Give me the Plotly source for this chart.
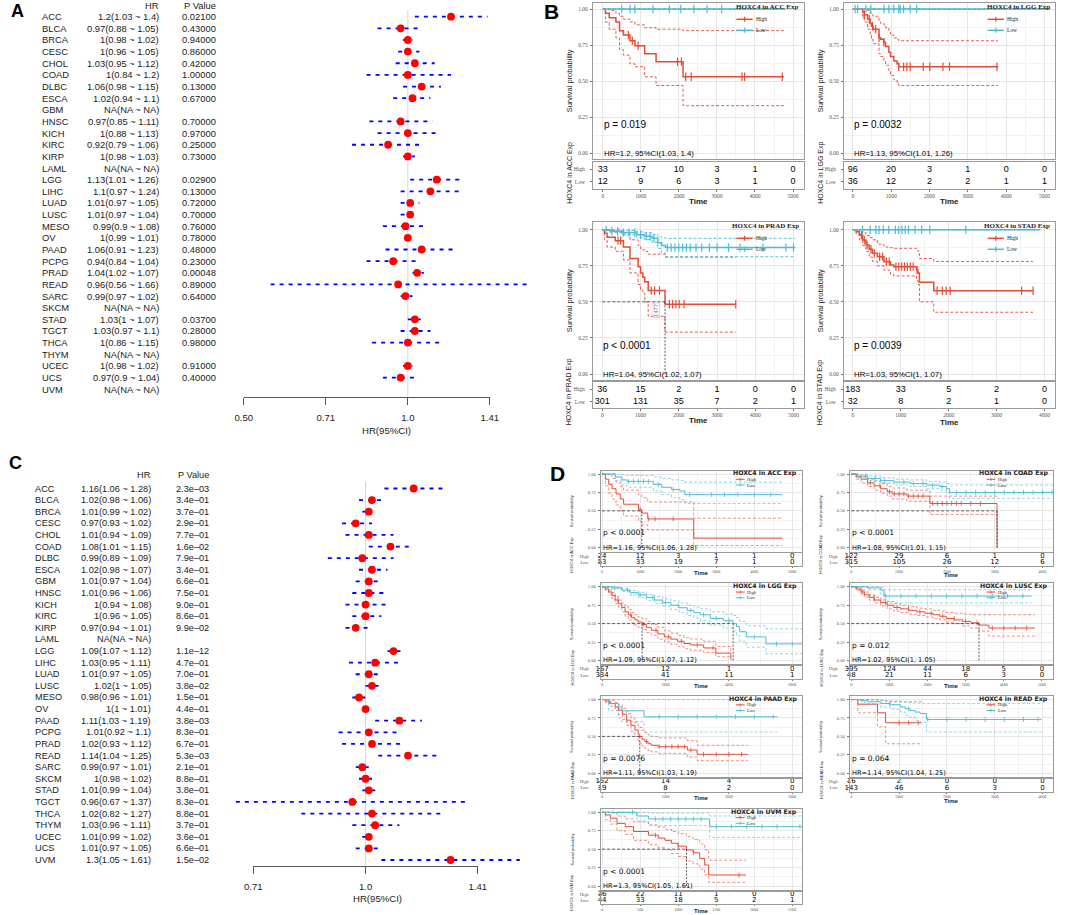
import math
import plotly.graph_objects as go

W, H = 1065, 915
RED = "#E64B35"
BLUE = "#4DBBD5"
FBLUE = "#0000FF"
FRED = "#FF0000"
SANS = "Liberation Sans, Arial, sans-serif"
DEJAVU = "DejaVu Sans, Liberation Sans, sans-serif"
SERIF = "Liberation Serif, Times New Roman, serif"

# ---------------- Forest plot data (panels A and C) ----------------
CANCERS = ["ACC", "BLCA", "BRCA", "CESC", "CHOL", "COAD", "DLBC", "ESCA", "GBM", "HNSC", "KICH",
           "KIRC", "KIRP", "LAML", "LGG", "LIHC", "LUAD", "LUSC", "MESO", "OV", "PAAD", "PCPG",
           "PRAD", "READ", "SARC", "SKCM", "STAD", "TGCT", "THCA", "THYM", "UCEC", "UCS", "UVM"]

A_HR = [1.2, 0.97, 1, 1, 1.03, 1, 1.06, 1.02, None, 0.97, 1, 0.92, 1, None, 1.13, 1.1, 1.01, 1.01,
        0.99, 1, 1.06, 0.94, 1.04, 0.96, 0.99, None, 1.03, 1.03, 1, None, 1, 0.97, None]
A_LO = [1.03, 0.88, 0.98, 0.96, 0.95, 0.84, 0.98, 0.94, None, 0.85, 0.88, 0.79, 0.98, None, 1.01, 0.97,
        0.97, 0.97, 0.9, 0.99, 0.91, 0.84, 1.02, 0.56, 0.97, None, 1, 0.97, 0.86, None, 0.98, 0.9, None]
A_HI = [1.4, 1.05, 1.02, 1.05, 1.12, 1.2, 1.15, 1.1, None, 1.11, 1.13, 1.06, 1.03, None, 1.26, 1.24,
        1.05, 1.04, 1.08, 1.01, 1.23, 1.04, 1.07, 1.66, 1.02, None, 1.07, 1.1, 1.15, None, 1.02, 1.04, None]
A_P = ["0.02100", "0.43000", "0.94000", "0.86000", "0.42000", "1.00000", "0.13000", "0.67000", "",
       "0.70000", "0.97000", "0.25000", "0.73000", "", "0.02900", "0.13000", "0.72000", "0.70000",
       "0.76000", "0.78000", "0.48000", "0.23000", "0.00048", "0.89000", "0.64000", "", "0.03700",
       "0.28000", "0.98000", "", "0.91000", "0.40000", ""]
A_TICKS = [0.5, 0.7071, 1.0, 1.4142]
A_TICK_LABELS = ["0.50", "0.71", "1.0", "1.41"]

C_HR = [1.16, 1.02, 1.01, 0.97, 1.01, 1.08, 0.99, 1.02, 1.01, 1.01, 1, 1, 0.97, None, 1.09, 1.03, 1.01,
        1.02, 0.98, 1, 1.11, 1.01, 1.02, 1.14, 0.99, 1, 1.01, 0.96, 1.02, 1.03, 1.01, 1.01, 1.3]
C_LO = [1.06, 0.98, 0.99, 0.93, 0.94, 1.01, 0.89, 0.98, 0.97, 0.96, 0.94, 0.96, 0.94, None, 1.07, 0.95,
        0.97, 1, 0.96, 1, 1.03, 0.92, 0.93, 1.04, 0.97, 0.98, 0.99, 0.67, 0.82, 0.96, 0.99, 0.97, 1.05]
C_HI = [1.28, 1.06, 1.02, 1.02, 1.09, 1.15, 1.09, 1.07, 1.04, 1.06, 1.08, 1.05, 1.01, None, 1.12, 1.11,
        1.05, 1.05, 1.01, 1.01, 1.19, 1.1, 1.12, 1.25, 1.01, 1.02, 1.04, 1.37, 1.27, 1.11, 1.02, 1.05, 1.61]
C_P = ["2.3e\u201303", "3.4e\u201301", "3.7e\u201301", "2.9e\u201301", "7.7e\u201301", "1.6e\u201302",
       "7.9e\u201301", "3.4e\u201301", "6.6e\u201301", "7.5e\u201301", "9.0e\u201301", "8.6e\u201301",
       "9.9e\u201302", "", "1.1e\u201312", "4.7e\u201301", "7.0e\u201301", "3.8e\u201302", "1.5e\u201301",
       "4.4e\u201301", "3.8e\u201303", "8.3e\u201301", "6.7e\u201301", "5.3e\u201303", "2.1e\u201301",
       "8.8e\u201301", "3.8e\u201301", "8.3e\u201301", "8.8e\u201301", "3.7e\u201301", "3.6e\u201301",
       "6.6e\u201301", "1.5e\u201302"]
C_TICKS = [0.7071, 1.0, 1.4142]
C_TICK_LABELS = ["0.71", "1.0", "1.41"]

# ---------------- Kaplan-Meier data: panel B ----------------
B_ACC_HIGH_T = [0, 70, 170, 345, 440, 540, 715, 845, 1100, 1400, 2110, 4760]
B_ACC_HIGH_S = [1, 0.97, 0.94, 0.91, 0.85, 0.82, 0.78, 0.745, 0.69, 0.635, 0.53, 0.53]
B_ACC_HIGH_LO = [1, 0.91, 0.86, 0.80, 0.72, 0.68, 0.62, 0.60, 0.53, 0.47, 0.33, 0.33]
B_ACC_HIGH_HI = [1, 1.0, 0.99, 0.97, 0.95, 0.93, 0.91, 0.89, 0.87, 0.86, 0.85, 0.85]
B_ACC_HIGH_CENS = [672, 775, 930, 1963, 2066, 2178, 2325, 3659, 3728, 4718]
B_ACC_LOW_T = [0, 4800]
B_ACC_LOW_S = [1, 1]
B_ACC_LOW_LO = [1, 1]
B_ACC_LOW_HI = [1, 1]
B_ACC_LOW_CENS = [499, 715, 844, 1317, 1748, 2049, 2394, 2738, 3125]
B_ACC_RISK_T = [0, 1000, 2000, 3000, 4000, 5000]
B_ACC_RISK_HIGH = [33, 17, 10, 3, 1, 0]
B_ACC_RISK_LOW = [12, 9, 6, 3, 1, 0]

B_LGG_HIGH_T = [0, 256, 299, 385, 453, 487, 530, 684, 727, 812, 855, 941, 983, 1069, 1154, 1197, 3790]
B_LGG_HIGH_S = [1, 0.98, 0.96, 0.93, 0.90, 0.88, 0.86, 0.80, 0.79, 0.77, 0.74, 0.70, 0.67, 0.64, 0.62, 0.60, 0.60]
B_LGG_HIGH_LO = [1, 0.95, 0.91, 0.86, 0.82, 0.79, 0.76, 0.69, 0.67, 0.64, 0.61, 0.57, 0.54, 0.51, 0.49, 0.47, 0.47]
B_LGG_HIGH_HI = [1, 1, 1, 0.99, 0.97, 0.96, 0.95, 0.91, 0.90, 0.89, 0.87, 0.84, 0.82, 0.80, 0.79, 0.78, 0.78]
B_LGG_HIGH_CENS = [299, 428, 513, 599, 684, 812, 1197, 1325, 1411, 1496, 1838, 2009, 2351, 2522, 3762]
B_LGG_LOW_T = [0, 5150]
B_LGG_LOW_S = [1, 1]
B_LGG_LOW_LO = [1, 1]
B_LGG_LOW_HI = [1, 1]
B_LGG_LOW_CENS = [60, 128, 342, 470, 812, 940, 1069, 1197, 1240, 1325, 1496, 1667]
B_LGG_RISK_T = [0, 1000, 2000, 3000, 4000, 5000]
B_LGG_RISK_HIGH = [96, 20, 3, 1, 0, 0]
B_LGG_RISK_LOW = [36, 12, 2, 2, 1, 1]

B_PRAD_HIGH_T = [0, 56, 125, 339, 553, 724, 938, 1000, 1060, 1110, 1200, 1640, 3490]
B_PRAD_HIGH_S = [1, 0.975, 0.947, 0.924, 0.88, 0.80, 0.744, 0.70, 0.67, 0.64, 0.578, 0.483, 0.483]
B_PRAD_HIGH_LO = [1, 0.93, 0.88, 0.85, 0.79, 0.70, 0.62, 0.58, 0.56, 0.50, 0.40, 0.29, 0.29]
B_PRAD_HIGH_HI = [1, 1, 0.995, 0.99, 0.97, 0.93, 0.89, 0.87, 0.86, 0.85, 0.83, 0.81, 0.81]
B_PRAD_HIGH_CENS = [411, 480, 1281, 1367, 1496, 1753, 1839, 1925, 2010, 2139, 3490]
B_PRAD_LOW_T = [0, 200, 500, 900, 1100, 1300, 1450, 1550, 1650, 5050]
B_PRAD_LOW_S = [1, 0.99, 0.98, 0.965, 0.955, 0.94, 0.91, 0.89, 0.876, 0.876]
B_PRAD_LOW_LO = [1, 0.98, 0.965, 0.945, 0.932, 0.912, 0.87, 0.84, 0.813, 0.813]
B_PRAD_LOW_HI = [1, 1, 0.995, 0.985, 0.978, 0.968, 0.952, 0.945, 0.94, 0.94]
B_PRAD_LOW_CENS = [100, 250, 400, 550, 700, 850, 1000, 1150, 1250, 1350, 1700, 1800, 1900, 2000, 2100,
                   2200, 2300, 2450, 2600, 2800, 3000, 3300, 3600, 4200, 4800, 5000]
B_PRAD_RISK_T = [0, 1000, 2000, 3000, 4000, 5000]
B_PRAD_RISK_HIGH = [36, 15, 2, 1, 0, 0]
B_PRAD_RISK_LOW = [301, 131, 35, 7, 2, 1]
B_PRAD_MEDIAN_LABEL = "1477"

B_STAD_HIGH_T = [0, 70, 137, 205, 274, 342, 410, 513, 650, 787, 855, 1330, 1360, 1390, 1690, 3760]
B_STAD_HIGH_S = [1, 0.986, 0.963, 0.929, 0.894, 0.864, 0.836, 0.813, 0.778, 0.755, 0.744, 0.72, 0.70, 0.635, 0.577, 0.577]
B_STAD_HIGH_LO = [1, 0.97, 0.93, 0.89, 0.85, 0.81, 0.78, 0.75, 0.72, 0.69, 0.68, 0.65, 0.62, 0.50, 0.428, 0.428]
B_STAD_HIGH_HI = [1, 1, 0.995, 0.98, 0.96, 0.945, 0.93, 0.90, 0.88, 0.875, 0.871, 0.86, 0.85, 0.80, 0.78, 0.78]
B_STAD_HIGH_CENS = [180, 240, 300, 380, 450, 560, 620, 700, 760, 900, 960, 1020, 1080, 1140, 1200, 1260,
                    1340, 1758, 1867, 1949, 2031, 3522, 3762]
B_STAD_LOW_T = [0, 3900]
B_STAD_LOW_S = [1, 1]
B_STAD_LOW_LO = [1, 1]
B_STAD_LOW_HI = [1, 1]
B_STAD_LOW_CENS = [205, 362, 479, 547, 636, 752, 889, 957, 1026, 1094, 1162, 1299, 1436, 1607, 2359]
B_STAD_RISK_T = [0, 1000, 2000, 3000, 4000]
B_STAD_RISK_HIGH = [183, 33, 5, 2, 0]
B_STAD_RISK_LOW = [32, 8, 2, 1, 0]

# ---------------- Kaplan-Meier data: panel D ----------------
D_ACC_HIGH_T = [0, 87, 174, 261, 365, 478, 565, 957, 1043, 1200, 2409, 4739]
D_ACC_HIGH_S = [1, 0.93, 0.86, 0.80, 0.73, 0.66, 0.59, 0.52, 0.47, 0.39, 0.13, 0.13]
D_ACC_HIGH_LO = [1, 0.84, 0.74, 0.66, 0.58, 0.50, 0.43, 0.36, 0.31, 0.24, 0.03, 0.03]
D_ACC_HIGH_HI = [1, 1, 0.98, 0.94, 0.89, 0.83, 0.78, 0.72, 0.68, 0.62, 0.40, 0.40]
D_ACC_HIGH_CENS = [1000, 1217, 1391, 1870]
D_ACC_LOW_T = [0, 348, 522, 652, 1348, 1565, 1826, 2043, 2174, 4739]
D_ACC_LOW_S = [1, 0.96, 0.92, 0.90, 0.86, 0.82, 0.79, 0.77, 0.72, 0.72]
D_ACC_LOW_LO = [1, 0.91, 0.85, 0.82, 0.77, 0.72, 0.68, 0.65, 0.60, 0.60]
D_ACC_LOW_HI = [1, 1, 0.99, 0.98, 0.96, 0.94, 0.92, 0.91, 0.89, 0.89]
D_ACC_LOW_CENS = [696, 826, 957, 1087, 1217, 1478, 1870, 2300, 2870, 3217, 3565, 4000, 4435]
D_ACC_RISK_T = [0, 1000, 2000, 3000, 4000, 5000]
D_ACC_RISK_HIGH = [24, 12, 3, 1, 1, 0]
D_ACC_RISK_LOW = [53, 33, 19, 7, 1, 0]

D_COAD_HIGH_T = [0, 103, 205, 342, 479, 616, 753, 856, 1164, 1644, 3048]
D_COAD_HIGH_S = [1, 0.96, 0.93, 0.88, 0.84, 0.80, 0.76, 0.73, 0.70, 0.60, 0.0]
D_COAD_HIGH_LO = [1, 0.93, 0.88, 0.83, 0.78, 0.74, 0.70, 0.66, 0.63, 0.45, 0.45]
D_COAD_HIGH_HI = [1, 0.99, 0.97, 0.93, 0.90, 0.87, 0.83, 0.81, 0.78, 0.70, 0.70]
D_COAD_HIGH_CENS = [400, 600, 800, 900, 1000, 1100, 1200, 1300, 1400, 1500, 1700, 1800, 1900, 2000,
                    2100, 2200, 2300, 2500, 2700]
D_COAD_LOW_T = [0, 137, 342, 616, 890, 1233, 1575, 1849, 1986, 2055, 4212]
D_COAD_LOW_S = [1, 0.97, 0.94, 0.91, 0.89, 0.87, 0.85, 0.83, 0.80, 0.75, 0.75]
D_COAD_LOW_LO = [1, 0.95, 0.91, 0.88, 0.85, 0.83, 0.80, 0.78, 0.74, 0.67, 0.67]
D_COAD_LOW_HI = [1, 0.99, 0.97, 0.95, 0.93, 0.92, 0.90, 0.89, 0.87, 0.85, 0.85]
D_COAD_LOW_CENS = [300, 500, 700, 1100, 1300, 1500, 1700, 1900, 2200, 2400, 2600, 2800, 3000, 3200,
                   3400, 3600, 3800, 4000, 4200]
D_COAD_RISK_T = [0, 1000, 2000, 3000, 4000]
D_COAD_RISK_HIGH = [122, 29, 6, 1, 0]
D_COAD_RISK_LOW = [315, 105, 26, 12, 6]

D_LGG_HIGH_T = [0, 103, 207, 310, 413, 517, 620, 724, 827, 930, 1034, 1137, 1261, 1395, 1550, 1757,
                1964, 2171, 2377, 2584, 2791, 3204, 3587, 4062, 4083]
D_LGG_HIGH_S = [1.0, 0.97, 0.93, 0.88, 0.82, 0.77, 0.72, 0.66, 0.62, 0.58, 0.55, 0.52, 0.49, 0.45, 0.41,
                0.36, 0.32, 0.29, 0.26, 0.23, 0.21, 0.17, 0.10, 0.03, 0.03]
D_LGG_HIGH_LO = [1, 0.95, 0.90, 0.84, 0.77, 0.72, 0.66, 0.60, 0.55, 0.51, 0.48, 0.45, 0.42, 0.38, 0.34,
                 0.29, 0.25, 0.22, 0.19, 0.16, 0.14, 0.11, 0.05, 0.01, 0.01]
D_LGG_HIGH_HI = [1, 0.99, 0.96, 0.92, 0.87, 0.82, 0.78, 0.73, 0.69, 0.65, 0.62, 0.59, 0.57, 0.53, 0.49,
                 0.45, 0.40, 0.37, 0.34, 0.31, 0.29, 0.26, 0.19, 0.12, 0.12]
D_LGG_HIGH_CENS = [500, 900, 1300, 1700, 2100, 2500, 3000, 3500]
D_LGG_LOW_T = [0, 310, 620, 879, 1137, 1395, 1654, 1912, 2171, 2429, 2687, 2894, 3101, 3411, 3824, 4134,
               4238, 4341, 4548, 5168, 6305]
D_LGG_LOW_S = [1, 0.985, 0.955, 0.92, 0.89, 0.855, 0.82, 0.785, 0.75, 0.715, 0.68, 0.65, 0.62, 0.57,
               0.54, 0.50, 0.46, 0.39, 0.32, 0.225, 0.225]
D_LGG_LOW_LO = [1, 0.975, 0.935, 0.89, 0.855, 0.815, 0.775, 0.735, 0.69, 0.65, 0.61, 0.575, 0.54, 0.48,
                0.44, 0.40, 0.35, 0.26, 0.18, 0.09, 0.09]
D_LGG_LOW_HI = [1, 0.995, 0.975, 0.95, 0.925, 0.895, 0.865, 0.835, 0.81, 0.78, 0.75, 0.725, 0.70, 0.66,
                0.63, 0.61, 0.58, 0.53, 0.47, 0.43, 0.43]
D_LGG_LOW_CENS = [400, 800, 1200, 1600, 2000, 2400, 2800, 3200, 3600, 4000, 4800, 5500, 6000]
D_LGG_RISK_T = [0, 2000, 4000, 6000]
D_LGG_RISK_HIGH = [167, 12, 1, 0]
D_LGG_RISK_LOW = [334, 41, 11, 1]

D_LUSC_HIGH_T = [0, 129, 258, 344, 473, 601, 773, 945, 1117, 1289, 1503, 1718, 1933, 2148, 2320, 2491,
                 2706, 2921, 3136, 3350, 3608, 4811]
D_LUSC_HIGH_S = [1, 0.97, 0.93, 0.89, 0.855, 0.82, 0.785, 0.75, 0.72, 0.70, 0.68, 0.66, 0.64, 0.62, 0.60,
                 0.57, 0.55, 0.53, 0.51, 0.48, 0.44, 0.44]
D_LUSC_HIGH_LO = [1, 0.95, 0.90, 0.86, 0.82, 0.78, 0.74, 0.70, 0.67, 0.65, 0.63, 0.61, 0.59, 0.57, 0.55,
                  0.52, 0.50, 0.47, 0.44, 0.40, 0.33, 0.33]
D_LUSC_HIGH_HI = [1, 0.99, 0.96, 0.93, 0.89, 0.86, 0.83, 0.80, 0.77, 0.75, 0.73, 0.71, 0.70, 0.68, 0.67,
                  0.65, 0.64, 0.63, 0.62, 0.62, 0.62, 0.62]
D_LUSC_HIGH_CENS = [300, 600, 900, 1200, 1500, 1800, 2100, 2400, 2700, 3000, 3300, 3700, 4000, 4300, 4600]
D_LUSC_LOW_T = [0, 430, 773, 859, 4725]
D_LUSC_LOW_S = [1, 0.985, 0.955, 0.874, 0.874]
D_LUSC_LOW_LO = [1, 0.96, 0.90, 0.78, 0.78]
D_LUSC_LOW_HI = [1, 1, 0.99, 0.96, 0.96]
D_LUSC_LOW_CENS = [900, 1300, 1700, 2100, 2500, 2900, 3300, 3700, 4100, 4500]
D_LUSC_RISK_T = [0, 1000, 2000, 3000, 4000, 5000]
D_LUSC_RISK_HIGH = [395, 124, 44, 18, 5, 0]
D_LUSC_RISK_LOW = [48, 21, 11, 6, 3, 0]

D_PAAD_HIGH_T = [0, 52, 129, 207, 258, 320, 388, 455, 517, 568, 594, 630, 672, 724, 775, 879, 1344, 1499, 2300]
D_PAAD_HIGH_S = [1, 0.98, 0.946, 0.90, 0.856, 0.80, 0.72, 0.65, 0.586, 0.53, 0.50, 0.46, 0.43, 0.40, 0.38,
                 0.36, 0.315, 0.257, 0.257]
D_PAAD_HIGH_LO = [1, 0.96, 0.91, 0.85, 0.80, 0.73, 0.65, 0.57, 0.50, 0.44, 0.41, 0.37, 0.34, 0.31, 0.29,
                  0.27, 0.22, 0.17, 0.17]
D_PAAD_HIGH_HI = [1, 1, 0.99, 0.96, 0.93, 0.88, 0.81, 0.75, 0.69, 0.64, 0.62, 0.58, 0.55, 0.52, 0.50,
                  0.48, 0.44, 0.38, 0.38]
D_PAAD_HIGH_CENS = [700, 900, 1000, 1100, 1200, 1300, 1400, 1600, 1800, 2000, 2200]
D_PAAD_LOW_T = [0, 103, 258, 310, 661, 2765]
D_PAAD_LOW_S = [1, 0.946, 0.90, 0.847, 0.766, 0.766]
D_PAAD_LOW_LO = [1, 0.85, 0.75, 0.70, 0.56, 0.56]
D_PAAD_LOW_HI = [1, 1, 1, 1, 1, 1]
D_PAAD_LOW_CENS = [900, 1200, 1500, 1800, 2100, 2400, 2700]
D_PAAD_RISK_T = [0, 1000, 2000, 3000]
D_PAAD_RISK_HIGH = [152, 14, 4, 0]
D_PAAD_RISK_LOW = [19, 8, 2, 0]

D_READ_HIGH_T = [0, 137, 548, 719, 1473]
D_READ_HIGH_S = [1, 0.937, 0.82, 0.685, 0.685]
D_READ_HIGH_LO = [1, 0.82, 0.63, 0.40, 0.40]
D_READ_HIGH_HI = [1, 1, 0.99, 0.97, 0.97]
D_READ_HIGH_CENS = [1000, 1200, 1400]
D_READ_LOW_T = [0, 205, 342, 616, 822, 1027, 1130, 1233, 1336, 1438, 1575, 3973]
D_READ_LOW_S = [1, 0.985, 0.97, 0.946, 0.93, 0.90, 0.875, 0.85, 0.83, 0.81, 0.73, 0.73]
D_READ_LOW_LO = [1, 0.96, 0.94, 0.90, 0.87, 0.83, 0.79, 0.76, 0.72, 0.69, 0.56, 0.56]
D_READ_LOW_HI = [1, 1, 0.995, 0.985, 0.98, 0.965, 0.958, 0.952, 0.95, 0.948, 0.945, 0.945]
D_READ_LOW_CENS = [800, 1200, 1600, 2000, 2400, 2800, 3200, 3600, 3900]
D_READ_RISK_T = [0, 1000, 2000, 3000, 4000]
D_READ_RISK_HIGH = [16, 2, 0, 0, 0]
D_READ_RISK_LOW = [143, 46, 6, 3, 0]

D_UVM_HIGH_T = [0, 43, 109, 196, 304, 413, 609, 739, 826, 913, 1000, 1109, 1196, 1283, 1348, 1400, 1891]
D_UVM_HIGH_S = [1, 0.964, 0.92, 0.85, 0.805, 0.74, 0.69, 0.65, 0.62, 0.58, 0.54, 0.49, 0.45, 0.376, 0.285, 0.15, 0.15]
D_UVM_HIGH_LO = [1, 0.90, 0.84, 0.75, 0.70, 0.62, 0.56, 0.52, 0.49, 0.44, 0.40, 0.34, 0.30, 0.23, 0.15, 0.05, 0.05]
D_UVM_HIGH_HI = [1, 1, 0.99, 0.95, 0.91, 0.87, 0.83, 0.80, 0.77, 0.74, 0.71, 0.67, 0.63, 0.57, 0.49, 0.35, 0.35]
D_UVM_HIGH_CENS = [700, 1000, 1200, 1800]
D_UVM_LOW_T = [0, 457, 609, 1413, 2652]
D_UVM_LOW_S = [1, 0.95, 0.91, 0.805, 0.805]
D_UVM_LOW_LO = [1, 0.88, 0.82, 0.66, 0.66]
D_UVM_LOW_HI = [1, 1, 0.99, 0.95, 0.95]
D_UVM_LOW_CENS = [400, 700, 800, 900, 1000, 1100, 1200, 1300, 1500, 1700, 1900, 2100, 2300, 2600]
D_UVM_RISK_T = [0, 500, 1000, 1500, 2000, 2500]
D_UVM_RISK_HIGH = [36, 22, 11, 1, 0, 0]
D_UVM_RISK_LOW = [44, 33, 18, 5, 2, 1]

# ---------------- figure helpers ----------------
fig = go.Figure()
LAYOUT = {}
ANN = []
SHAPES = []
_n = [0]


def px_x(p):
    return p / W


def px_y(p):
    return 1 - p / H


def add_axes(xpx, ypx, xr, yr, xo=None, yo=None):
    _n[0] += 1
    n = _n[0]
    s = "" if n == 1 else str(n)
    base = dict(showgrid=False, zeroline=False, showticklabels=False, ticks="", showline=False, fixedrange=True)
    xa = dict(base, domain=[px_x(xpx[0]), px_x(xpx[1])], range=xr, anchor="y" + s)
    ya = dict(base, domain=[px_y(ypx[1]), px_y(ypx[0])], range=yr, anchor="x" + s)
    if xo:
        xa.update(xo)
    if yo:
        ya.update(yo)
    LAYOUT["xaxis" + s] = xa
    LAYOUT["yaxis" + s] = ya
    return "x" + s, "y" + s


def ann(text, x, y, xref="paper", yref="paper", size=10, family=SANS, color="black",
        xanchor="center", yanchor="middle", angle=0, weight="normal", **extra):
    d = dict(text=text, x=x, y=y, xref=xref, yref=yref, showarrow=False,
             font=dict(size=size, family=family, color=color, weight=weight),
             xanchor=xanchor, yanchor=yanchor, textangle=angle, borderpad=0)
    d.update(extra)
    ANN.append(d)


def fmt(v):
    return "NA" if v is None else f"{v:g}"


# ---------------- forest plots ----------------
def forest(hr, lo, hi, pv, ticks, ticklabels, g):
    lv = math.log10(g["ref_val"])
    xr = [lv + (g["L"] - g["ref_px"]) / g["kx"], lv + (g["R"] - g["ref_px"]) / g["kx"]]
    yr = [(g["axis"] - g["row0"]) / g["pitch"], (g["top"] - g["row0"]) / g["pitch"]]
    xa, ya = add_axes((g["L"], g["R"]), (g["top"], g["axis"]), xr, yr, xo=dict(type="log"))
    tpx = [g["ref_px"] + g["kx"] * (math.log10(t) - lv) for t in ticks]
    xa2, ya2 = add_axes((tpx[0], tpx[-1]), (g["top"], g["axis"]),
                        [math.log10(ticks[0]), math.log10(ticks[-1])], yr,
                        xo=dict(type="log", showline=True, linecolor="#555555", linewidth=1.3,
                                ticks="outside", ticklen=7, tickwidth=1.3, tickcolor="#555555",
                                tickvals=ticks, ticktext=ticklabels, showticklabels=True,
                                ticklabelstandoff=5,
                                tickfont=dict(family=SANS, size=9.6, color="#222222")))
    fig.add_trace(go.Scatter(x=[], y=[], xaxis=xa2, yaxis=ya2, showlegend=False))
    fig.add_trace(go.Scatter(x=[1, 1], y=yr, mode="lines", line=dict(color="#D5D5D5", width=1),
                             xaxis=xa, yaxis=ya, showlegend=False, hoverinfo="skip"))
    cx, cy = [], []
    for i, (l, h) in enumerate(zip(lo, hi)):
        if l is None:
            continue
        cx += [l, h, None]
        cy += [i, i, None]
    fig.add_trace(go.Scatter(x=cx, y=cy, mode="lines", line=dict(color=FBLUE, width=1.8, dash="4px,5px"),
                             xaxis=xa, yaxis=ya, showlegend=False, hoverinfo="skip"))
    mx, my = [], []
    for i, v in enumerate(hr):
        if v is not None:
            mx.append(v)
            my.append(i)
    fig.add_trace(go.Scatter(x=mx, y=my, mode="markers", marker=dict(color=FRED, size=7.8, line=dict(width=0)),
                             xaxis=xa, yaxis=ya, showlegend=False, hoverinfo="skip"))
    fs = g["fs"]
    ann("HR", px_x(g["hr_right"]), px_y(g["header_y"]), xanchor="right", size=fs, color="#1a1a1a")
    ann("P Value", px_x(g["p_right"]), px_y(g["header_y"]), xanchor="right", size=fs, color="#1a1a1a")
    for i, name in enumerate(CANCERS):
        ann(name, px_x(g["name_x"]), i, yref=ya, xanchor="left", size=fs, color="#1a1a1a")
        label = f"{fmt(hr[i])}({fmt(lo[i])} ~ {fmt(hi[i])})"
        ann(label, px_x(g["hr_right"]), i, yref=ya, xanchor="right", size=fs, color="#1a1a1a")
        if pv[i]:
            ann(pv[i], px_x(g["p_right"]), i, yref=ya, xanchor="right", size=fs, color="#1a1a1a")
    ann("HR(95%CI)", px_x(g["title_x"]), px_y(g["title_y"]), size=9.6, color="#222")


A_GEO = dict(L=200, R=540, top=10, axis=396.7, row0=16.7, pitch=11.64, ref_val=1.0, ref_px=405.7,
             kx=554.4, name_x=33, hr_right=154, p_right=212, header_y=5, title_x=383.7, title_y=430, fs=9.4)
C_GEO = dict(L=215, R=540, top=481.7, axis=865.7, row0=488.5, pitch=11.61, ref_val=1.0, ref_px=362.7,
             kx=758.5, name_x=25, hr_right=145.7, p_right=204, header_y=475, title_x=375, title_y=898, fs=9.2)

forest(A_HR, A_LO, A_HI, A_P, A_TICKS, A_TICK_LABELS, A_GEO)
forest(C_HR, C_LO, C_HI, C_P, C_TICKS, C_TICK_LABELS, C_GEO)


# ---------------- Kaplan-Meier panels ----------------
def step_val(ts, ss, t):
    v = ss[0]
    for ti, si in zip(ts, ss):
        if ti <= t:
            v = si
        else:
            break
    return v


def median_time(ts, ss):
    for ti, si in zip(ts, ss):
        if si <= 0.5:
            return ti
    return None


GRID = "#E6E6E6"
GRIDM = "#F2F2F2"
BORDER = "#9A9A9A"

B_STYLE = dict(p_size=10, p_family=SANS, hr_size=7.8, risk_size=9, tick_size=5.5, ylab_size=7.5,
               tabtitle_size=7, time_size=8, leg_title=7, leg_family=SERIF, leg_item=5.5, curve_w=1.5,
               ci_w=0.9, cens_size=6, title_dy=4, high_dy=16.6, low_dy=27.6, ytitle_dx=24, time_dy=12.2,
               key0=68.5, key1=52, keytext=50, keytick=2.5, p_y=0.2, tab_standoff=4, tabtitle_dy=-3,
               xtick_size=5.5, xtick_len=1.5, xtick_standoff=0, med_size=6)
D_STYLE = dict(p_size=7.5, p_family=DEJAVU, hr_size=6.6, risk_size=7, tick_size=4.5, ylab_size=3.8,
               tabtitle_size=4.0, time_size=6, leg_title=6.2, leg_family=DEJAVU, leg_item=4.5, curve_w=1.0,
               ci_w=0.6, cens_size=3.5, title_dy=2.6, high_dy=8.6, low_dy=14.3, ytitle_dx=29, time_dy=6.9,
               key0=67.4, key1=58.4, keytext=56.7, keytick=1.6, p_y=0.2, tab_standoff=8, tabtitle_dy=-5,
               xtick_size=4, xtick_len=1, xtick_standoff=0, med_size=4)


def km(name, high, low, risk_t, risk_hi, risk_lo, ptext, hrtext, g, st, med_label=None, time_dy=None):
    L, R, T, Bt = g["L"], g["R"], g["T"], g["B"]
    p1, p0, x0, k = g["p1"], g["p0"], g["x0"], g["k"]
    xr = [(L - x0) / k, (R - x0) / k]
    yr = [(p0 - Bt) / (p0 - p1), (p0 - T) / (p0 - p1)]
    step = risk_t[1] - risk_t[0]
    xa, ya = add_axes(
        (L, R), (T, Bt), xr, yr,
        xo=dict(tickvals=risk_t, showgrid=True, gridcolor=GRID, gridwidth=0.6,
                minor=dict(showgrid=True, gridcolor=GRIDM, gridwidth=0.5, tick0=0, dtick=step / 2),
                showline=True, mirror=True, linecolor=BORDER, linewidth=1),
        yo=dict(tickvals=[0, 0.25, 0.5, 0.75, 1], ticktext=["0.00", "0.25", "0.50", "0.75", "1.00"],
                showticklabels=True, tickfont=dict(family=SERIF, size=st["tick_size"], color="#555"),
                ticks="outside", ticklen=2, tickwidth=0.6, tickcolor="#777", ticklabelstandoff=1,
                showgrid=True, gridcolor=GRID, gridwidth=0.6,
                minor=dict(showgrid=True, gridcolor=GRIDM, gridwidth=0.5, tick0=0, dtick=0.125),
                showline=True, mirror=True, linecolor=BORDER, linewidth=1))
    meds = []
    for (t, s, lo, hi, cens), col in ((high, RED), (low, BLUE)):
        for band in (hi, lo):
            fig.add_trace(go.Scatter(x=t, y=band, mode="lines",
                                     line=dict(color=col, width=st["ci_w"], dash="3px,2px", shape="hv"),
                                     xaxis=xa, yaxis=ya, showlegend=False, hoverinfo="skip"))
        fig.add_trace(go.Scatter(x=t, y=s, mode="lines", line=dict(color=col, width=st["curve_w"], shape="hv"),
                                 xaxis=xa, yaxis=ya, showlegend=False, hoverinfo="skip"))
        fig.add_trace(go.Scatter(x=cens, y=[step_val(t, s, c) for c in cens], mode="markers",
                                 marker=dict(symbol="line-ns", size=st["cens_size"],
                                             line=dict(color=col, width=st["curve_w"] * 0.8)),
                                 xaxis=xa, yaxis=ya, showlegend=False, hoverinfo="skip", cliponaxis=False))
        m = median_time(t, s)
        if m is not None:
            meds.append(m)
    if meds:
        fig.add_trace(go.Scatter(x=[0, max(meds)], y=[0.5, 0.5], mode="lines",
                                 line=dict(color="#333", width=0.8, dash="3px,2px"),
                                 xaxis=xa, yaxis=ya, showlegend=False, hoverinfo="skip"))
        for m in meds:
            fig.add_trace(go.Scatter(x=[m, m], y=[0.5, 0], mode="lines",
                                     line=dict(color="#333", width=0.8, dash="2px,1.5px"),
                                     xaxis=xa, yaxis=ya, showlegend=False, hoverinfo="skip"))
        if med_label:
            ann(med_label, min(meds) * 0.86, 0.44, xref=xa, yref=ya, angle=-90, size=st["med_size"],
                family=SANS, color="#777", bgcolor="rgba(255,255,255,0.8)", bordercolor="#BBBBBB",
                borderwidth=0.6)
    # risk table
    tt, tb, rh, rl = g["tab"]
    xt, yt = add_axes(
        (L, R), (tt, tb), xr, [(rl - tb) / (rl - rh), (rl - tt) / (rl - rh)],
        xo=dict(tickvals=risk_t, ticktext=[str(v) for v in risk_t], showticklabels=True,
                tickfont=dict(family=SERIF, size=st["xtick_size"], color="#555"), ticks="outside",
                ticklen=st["xtick_len"], tickwidth=0.6, tickcolor="#777", ticklabelstandoff=st["xtick_standoff"],
                showline=True, mirror=True, linecolor=BORDER, linewidth=1),
        yo=dict(tickvals=[1, 0], ticktext=["High", "Low"], showticklabels=True,
                tickfont=dict(family=SERIF, size=st["tick_size"], color="#555"), ticks="outside",
                ticklen=2, tickwidth=0.6, tickcolor="#777", ticklabelstandoff=st["tab_standoff"],
                showline=True, mirror=True, linecolor=BORDER, linewidth=1))
    n = len(risk_t)
    fig.add_trace(go.Scatter(x=risk_t + risk_t, y=[1] * n + [0] * n, mode="text",
                             text=[str(v) for v in risk_hi + risk_lo],
                             textfont=dict(family=st["p_family"], size=st["risk_size"], color="black"),
                             xaxis=xt, yaxis=yt, showlegend=False, hoverinfo="skip", cliponaxis=False))
    # texts
    ann(ptext, 0, st["p_y"], xref=xa, yref=ya, xanchor="left", size=st["p_size"], family=st["p_family"])
    ann(hrtext, 0, 0.0, xref=xa, yref=ya, xanchor="left", size=st["hr_size"], family=st["p_family"])
    ann("Survival probability", px_x(L - st["ytitle_dx"]), px_y((T + Bt) / 2), angle=-90,
        size=st["ylab_size"], family=SANS, color="#222")
    ann(f"HOXC4 in {name} Exp", px_x(L - st["ytitle_dx"]), px_y((tt + tb) / 2 + st["tabtitle_dy"]), angle=-90,
        size=st["tabtitle_size"], family=SANS, color="#222")
    tdy = st["time_dy"] if time_dy is None else time_dy
    ann("Time", px_x((L + R) / 2), px_y(tb + tdy), size=st["time_size"], family=SANS,
        weight="bold", color="#222")
    # legend
    ann(f"HOXC4 in {name} Exp", px_x(R - 4), px_y(T + st["title_dy"]), xanchor="right",
        size=st["leg_title"], family=st["leg_family"], weight="bold", color="#222")
    for lab, col, dy in (("High", RED, st["high_dy"]), ("Low", BLUE, st["low_dy"])):
        yy = px_y(T + dy)
        SHAPES.append(dict(type="line", xref="paper", yref="paper", x0=px_x(R - st["key0"]),
                           x1=px_x(R - st["key1"]), y0=yy, y1=yy, line=dict(color=col, width=st["curve_w"])))
        xm = px_x(R - (st["key0"] + st["key1"]) / 2)
        SHAPES.append(dict(type="line", xref="paper", yref="paper", x0=xm, x1=xm,
                           y0=px_y(T + dy - st["keytick"]), y1=px_y(T + dy + st["keytick"]),
                           line=dict(color=col, width=st["curve_w"] * 0.8)))
        ann(lab, px_x(R - st["keytext"]), yy, xanchor="left", size=st["leg_item"], family=SERIF, color="#222")


def bgeo(L, R, T, Bt, p1, p0, x0, k, tab):
    return dict(L=L, R=R, T=T, B=Bt, p1=p1, p0=p0, x0=x0, k=k, tab=tab)


km("ACC", (B_ACC_HIGH_T, B_ACC_HIGH_S, B_ACC_HIGH_LO, B_ACC_HIGH_HI, B_ACC_HIGH_CENS),
   (B_ACC_LOW_T, B_ACC_LOW_S, B_ACC_LOW_LO, B_ACC_LOW_HI, B_ACC_LOW_CENS),
   B_ACC_RISK_T, B_ACC_RISK_HIGH, B_ACC_RISK_LOW, "p = 0.019", "HR=1.2, 95%CI(1.03, 1.4)",
   bgeo(594, 808.5, 2.7, 159.3, 9, 153.3, 604, 0.0387, (161.7, 189.3, 169.3, 181.7)), B_STYLE)
km("LGG", (B_LGG_HIGH_T, B_LGG_HIGH_S, B_LGG_HIGH_LO, B_LGG_HIGH_HI, B_LGG_HIGH_CENS),
   (B_LGG_LOW_T, B_LGG_LOW_S, B_LGG_LOW_LO, B_LGG_LOW_HI, B_LGG_LOW_CENS),
   B_LGG_RISK_T, B_LGG_RISK_HIGH, B_LGG_RISK_LOW, "p = 0.0032", "HR=1.13, 95%CI(1.01, 1.26)",
   bgeo(849.3, 1064, 2.7, 159.3, 9, 153.3, 858.3, 0.039, (161.7, 189.3, 169.3, 181.7)), B_STYLE)
km("PRAD", (B_PRAD_HIGH_T, B_PRAD_HIGH_S, B_PRAD_HIGH_LO, B_PRAD_HIGH_HI, B_PRAD_HIGH_CENS),
   (B_PRAD_LOW_T, B_PRAD_LOW_S, B_PRAD_LOW_LO, B_PRAD_LOW_HI, B_PRAD_LOW_CENS),
   B_PRAD_RISK_T, B_PRAD_RISK_HIGH, B_PRAD_RISK_LOW, "p < 0.0001", "HR=1.04, 95%CI(1.02, 1.07)",
   bgeo(594, 808.5, 221.7, 380, 229.7, 374, 603.5, 0.0389, (381.7, 408.3, 389.3, 401.7)), B_STYLE,
   med_label=B_PRAD_MEDIAN_LABEL)
km("STAD", (B_STAD_HIGH_T, B_STAD_HIGH_S, B_STAD_HIGH_LO, B_STAD_HIGH_HI, B_STAD_HIGH_CENS),
   (B_STAD_LOW_T, B_STAD_LOW_S, B_STAD_LOW_LO, B_STAD_LOW_HI, B_STAD_LOW_CENS),
   B_STAD_RISK_T, B_STAD_RISK_HIGH, B_STAD_RISK_LOW, "p = 0.0039", "HR=1.03, 95%CI(1, 1.07)",
   bgeo(849.3, 1064, 221.7, 380, 229.7, 374, 858.3, 0.04875, (381.7, 408.3, 389.3, 401.7)), B_STYLE,
   time_dy=14)


def dgeo(col, row, x0, k):
    L, R = (601.7, 806.7) if col == 0 else (855, 1061.7)
    dy = row * 112.77
    return dict(L=L, R=R, T=470.7 + dy, B=551.7 + dy, p1=474 + dy, p0=547.7 + dy, x0=x0, k=k,
                tab=(553.3 + dy, 566 + dy, 556 + dy, 562.3 + dy))


km("ACC", (D_ACC_HIGH_T, D_ACC_HIGH_S, D_ACC_HIGH_LO, D_ACC_HIGH_HI, D_ACC_HIGH_CENS),
   (D_ACC_LOW_T, D_ACC_LOW_S, D_ACC_LOW_LO, D_ACC_LOW_HI, D_ACC_LOW_CENS),
   D_ACC_RISK_T, D_ACC_RISK_HIGH, D_ACC_RISK_LOW, "p < 0.0001", "HR=1.16, 95%CI(1.06, 1.28)",
   dgeo(0, 0, 603.3, 0.0387), D_STYLE)
km("COAD", (D_COAD_HIGH_T, D_COAD_HIGH_S, D_COAD_HIGH_LO, D_COAD_HIGH_HI, D_COAD_HIGH_CENS),
   (D_COAD_LOW_T, D_COAD_LOW_S, D_COAD_LOW_LO, D_COAD_LOW_HI, D_COAD_LOW_CENS),
   D_COAD_RISK_T, D_COAD_RISK_HIGH, D_COAD_RISK_LOW, "p < 0.0001", "HR=1.08, 95%CI(1.01, 1.15)",
   dgeo(1, 0, 856.7, 0.04867), D_STYLE, time_dy=9)
km("LGG", (D_LGG_HIGH_T, D_LGG_HIGH_S, D_LGG_HIGH_LO, D_LGG_HIGH_HI, D_LGG_HIGH_CENS),
   (D_LGG_LOW_T, D_LGG_LOW_S, D_LGG_LOW_LO, D_LGG_LOW_HI, D_LGG_LOW_CENS),
   D_LGG_RISK_T, D_LGG_RISK_HIGH, D_LGG_RISK_LOW, "p < 0.0001", "HR=1.09, 95%CI(1.07, 1.12)",
   dgeo(0, 1, 603.3, 0.03225), D_STYLE)
km("LUSC", (D_LUSC_HIGH_T, D_LUSC_HIGH_S, D_LUSC_HIGH_LO, D_LUSC_HIGH_HI, D_LUSC_HIGH_CENS),
   (D_LUSC_LOW_T, D_LUSC_LOW_S, D_LUSC_LOW_LO, D_LUSC_LOW_HI, D_LUSC_LOW_CENS),
   D_LUSC_RISK_T, D_LUSC_RISK_HIGH, D_LUSC_RISK_LOW, "p = 0.012", "HR=1.02, 95%CI(1, 1.05)",
   dgeo(1, 1, 856.7, 0.0388), D_STYLE)
km("PAAD", (D_PAAD_HIGH_T, D_PAAD_HIGH_S, D_PAAD_HIGH_LO, D_PAAD_HIGH_HI, D_PAAD_HIGH_CENS),
   (D_PAAD_LOW_T, D_PAAD_LOW_S, D_PAAD_LOW_LO, D_PAAD_LOW_HI, D_PAAD_LOW_CENS),
   D_PAAD_RISK_T, D_PAAD_RISK_HIGH, D_PAAD_RISK_LOW, "p = 0.0076", "HR=1.11, 95%CI(1.03, 1.19)",
   dgeo(0, 2, 603.3, 0.0645), D_STYLE)
km("READ", (D_READ_HIGH_T, D_READ_HIGH_S, D_READ_HIGH_LO, D_READ_HIGH_HI, D_READ_HIGH_CENS),
   (D_READ_LOW_T, D_READ_LOW_S, D_READ_LOW_LO, D_READ_LOW_HI, D_READ_LOW_CENS),
   D_READ_RISK_T, D_READ_RISK_HIGH, D_READ_RISK_LOW, "p = 0.064", "HR=1.14, 95%CI(1.04, 1.25)",
   dgeo(1, 2, 856.7, 0.04867), D_STYLE, time_dy=9)
km("UVM", (D_UVM_HIGH_T, D_UVM_HIGH_S, D_UVM_HIGH_LO, D_UVM_HIGH_HI, D_UVM_HIGH_CENS),
   (D_UVM_LOW_T, D_UVM_LOW_S, D_UVM_LOW_LO, D_UVM_LOW_HI, D_UVM_LOW_CENS),
   D_UVM_RISK_T, D_UVM_RISK_HIGH, D_UVM_RISK_LOW, "p < 0.0001", "HR=1.3, 95%CI(1.05, 1.61)",
   dgeo(0, 3, 603.3, 0.0774), D_STYLE)

# panel letters
ann("A", px_x(9), px_y(11), size=18, family=SANS, weight="bold")
ann("B", px_x(551.7), px_y(12), size=21, family=SANS, weight="bold")
ann("C", px_x(7), px_y(462.5), size=18, family=SANS, weight="bold")
ann("D", px_x(557.5), px_y(473.3), size=21, family=SANS, weight="bold")

fig.update_layout(
    width=W, height=H, autosize=False,
    margin=dict(l=0, r=0, t=0, b=0, pad=0),
    paper_bgcolor="white", plot_bgcolor="rgba(0,0,0,0)",
    showlegend=False,
    annotations=ANN, shapes=SHAPES,
    **LAYOUT,
)
fig.write_html("out.html", config={"displayModeBar": False},
               post_script="document.body.style.margin='0px';")
